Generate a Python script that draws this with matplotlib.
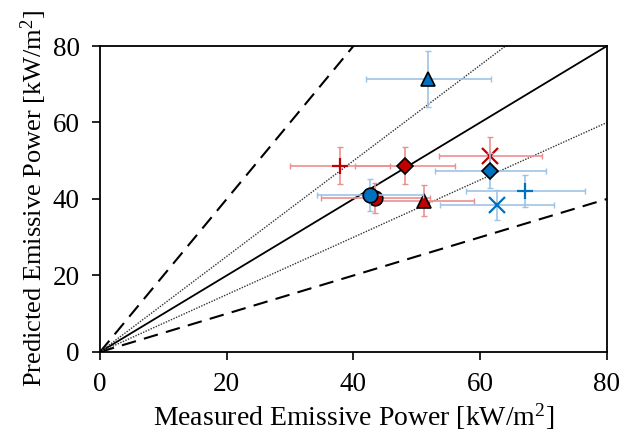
import matplotlib
matplotlib.use("Agg")
import matplotlib.pyplot as plt
import numpy as np

plt.rcParams['font.family'] = ['Liberation Serif', 'DejaVu Serif']
plt.rcParams['mathtext.fontset'] = 'custom'
plt.rcParams['mathtext.rm'] = 'Liberation Serif'

# Data (markers: circle, diamond, plus, x, triangle)
markers = ['o', 'D', '+', 'x', '^']
blue_x = [42.6, 61.6, 67.1, 62.6, 51.8]
blue_y = [41.0, 47.4, 42.2, 38.4, 71.4]
blue_xerr = [8.3, 8.8, 9.4, 9.0, 9.9]
blue_yerr = [4.2, 4.6, 4.2, 4.0, 7.3]

red_x = [43.4, 48.1, 37.9, 61.6, 51.1]
red_y = [40.3, 48.7, 48.7, 51.3, 39.6]
red_xerr = [8.6, 7.9, 7.9, 8.1, 7.9]
red_yerr = [3.9, 4.8, 4.8, 5.0, 4.0]

ref_slopes_solid = [1.0]
ref_slopes_dashed = [2.0, 0.5]
ref_slopes_dotted = [1.25, 0.75]

ticks = [0, 20, 40, 60, 80]

fig = plt.figure(figsize=(6.27, 4.34), dpi=100)
ax = fig.add_axes([0.1595, 0.189, 0.8085, 0.705])

xs = np.array([0, 80])
for s in ref_slopes_solid:
    ax.plot(xs, s * xs, color='black', lw=1.3, zorder=1)
for s in ref_slopes_dashed:
    ax.plot(xs, s * xs, color='black', lw=1.5, ls=(0, (7, 4)), zorder=1)
for s in ref_slopes_dotted:
    ax.plot(xs, s * xs, color='#333333', lw=1.0, ls=(0, (1, 1)), zorder=1)

BLUE = '#0070C0'
RED = '#C00000'
BLUE_E = '#9DC3E6'
RED_E = '#EE8F8F'

sizes = {'o': 10.5, 'D': 8, '+': 12, 'x': 11, '^': 10.5}

def draw(xv, yv, xe, ye, color, ecolor, z):
    for i, m in enumerate(markers):
        ax.errorbar(xv[i], yv[i], xerr=xe[i], yerr=ye[i], fmt='none',
                    ecolor=ecolor, elinewidth=1.2, capsize=2, capthick=1.0,
                    zorder=z)
    for i, m in enumerate(markers):
        if m in ['+', 'x']:
            ax.plot(xv[i], yv[i], marker=m, ls='none', color=color,
                    markersize=sizes[m], markeredgewidth=1.6, zorder=z + 1)
        else:
            ax.plot(xv[i], yv[i], marker=m, ls='none', markerfacecolor=color,
                    markeredgecolor='black', markeredgewidth=1.2,
                    markersize=sizes[m], zorder=z + 1)

draw(red_x, red_y, red_xerr, red_yerr, RED, RED_E, 3)
draw(blue_x, blue_y, blue_xerr, blue_yerr, BLUE, BLUE_E, 5)

ax.set_xlim(0, 80)
ax.set_ylim(0, 80)
ax.set_xticks(ticks)
ax.set_yticks(ticks)
ax.tick_params(direction='out', length=5.5, width=1.2, labelsize=19.5, pad=9)
for sp in ax.spines.values():
    sp.set_linewidth(1.3)
ax.set_xlabel('Measured Emissive Power [kW/m$\\mathregular{^2}$]', fontsize=20, labelpad=3)
ax.set_ylabel('Predicted Emissive Power [kW/m$\\mathregular{^2}$]', fontsize=19, labelpad=3)

fig.savefig('out.png', dpi=100)
